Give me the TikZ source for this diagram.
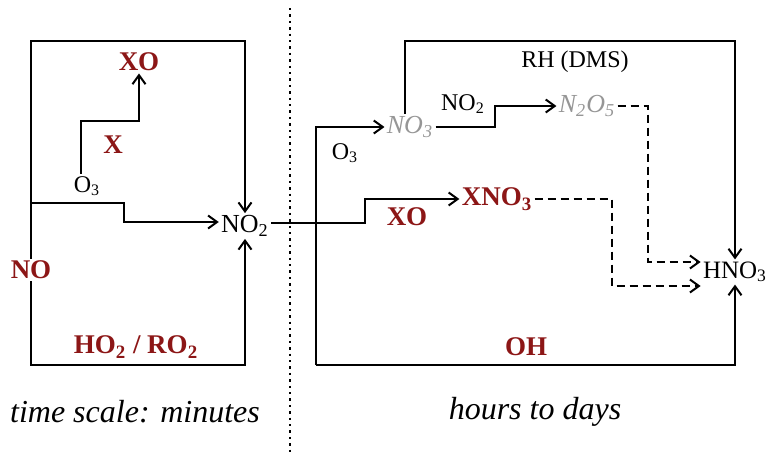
\documentclass[tikz,border=0pt]{standalone}
\usepackage{fontspec}
\setmainfont{Liberation Serif}
\usetikzlibrary{arrows.meta,positioning,calc}
\definecolor{xred}{RGB}{140,22,22}
\definecolor{nox}{RGB}{150,150,150}

\begin{document}
\begin{tikzpicture}[x=0.5pt,y=-0.5pt,
    arr/.style={line width=1pt,-{Straight Barb[length=4.5pt,width=6.5pt,line width=1pt]}},
    darr/.style={arr,dashed,dash pattern=on 4pt off 2.5pt},
    chem/.style={inner sep=1pt,font=\fontsize{12}{14}\selectfont},
    redchem/.style={chem,xred,font=\fontsize{13.5}{16}\selectfont\bfseries},
    graychem/.style={chem,nox,font=\fontsize{13}{15}\selectfont\itshape},
    scale label/.style={font=\fontsize{16}{19}\selectfont\itshape}]
    \useasboundingbox (0,0) rectangle (767,452);
    % fast cycle
    \node[chem,font=\fontsize{13}{15}\selectfont] (no2a) at (245,226) {NO\textsubscript{2}};
    \node[redchem] (no) at (31,270) {NO};
    \node[chem] (o3a) at (87,186) {O\textsubscript{3}};
    \node[redchem] (xoa) at (139,62) {XO};
    \node[redchem] (xa) at (113,145) {X};
    \node[redchem] (hro2) at (136,347) {HO\textsubscript{2} / RO\textsubscript{2}};
    \coordinate (topL) at (31,41);
    \coordinate (botL) at (31,365);
    \coordinate (branchL) at (31,203);
    \coordinate (stepL) at (124,222);
    \coordinate (stepX) at (81,121);
    \draw[arr] (no.north) -- (topL) -| (no2a.north);
    \draw[arr] (no.south) -- (botL) -| (no2a.south);
    \draw[arr] (branchL) -| (stepL) -- (stepL -| no2a.west);
    \draw[arr] (o3a.north -| stepX) -- (stepX) -| (xoa.south);
    % separator
    \draw[dotted,line width=1.2pt] (290,8) -- (290,452);
    % slow chemistry
    \node[graychem] (no3) at (410,127) {NO\textsubscript{3}};
    \node[chem] (o3b) at (345,153) {O\textsubscript{3}};
    \node[chem] (no2b) at (463,104) {NO\textsubscript{2}};
    \node[graychem] (n2o5) at (587,106) {N\textsubscript{2}O\textsubscript{5}};
    \node[redchem] (xno3) at (497,199) {XNO\textsubscript{3}};
    \node[redchem] (xob) at (407,217) {XO};
    \node[chem,font=\fontsize{12.5}{15}\selectfont] (hno3) at (735,272) {HNO\textsubscript{3}};
    \node[chem] (rh) at (575,62) {RH (DMS)};
    \node[redchem] (oh) at (526,347) {OH};
    \coordinate (kinkA) at (365,223);
    \coordinate (cornerO) at (316,365);
    \coordinate (rhTop) at (405,41);
    \coordinate (stepB) at (495,115);
    \coordinate (dropA) at (648,262);
    \coordinate (dropB) at (612,286);
    \draw[arr] (kinkA -| no2a.east) -- (kinkA) |- (xno3.west);
    \draw[arr] (cornerO) |- (no3.west);
    \draw[arr] (cornerO) -| (hno3.south);
    \draw[arr] (rhTop |- no3.north) -- (rhTop) -| (hno3.north);
    \draw[arr] (no3.east) -| (stepB) |- (n2o5.west);
    \draw[darr] (n2o5.east) -| (dropA) -- (dropA -| hno3.west);
    \draw[darr] (xno3.east) -| (dropB) -- (dropB -| hno3.west);
    % time scales
    \node[scale label] (tsL) at (135,412) {time scale: minutes};
    \node[scale label] (tsR) at (535,412) {hours to days};
  \end{tikzpicture}
\end{document}
